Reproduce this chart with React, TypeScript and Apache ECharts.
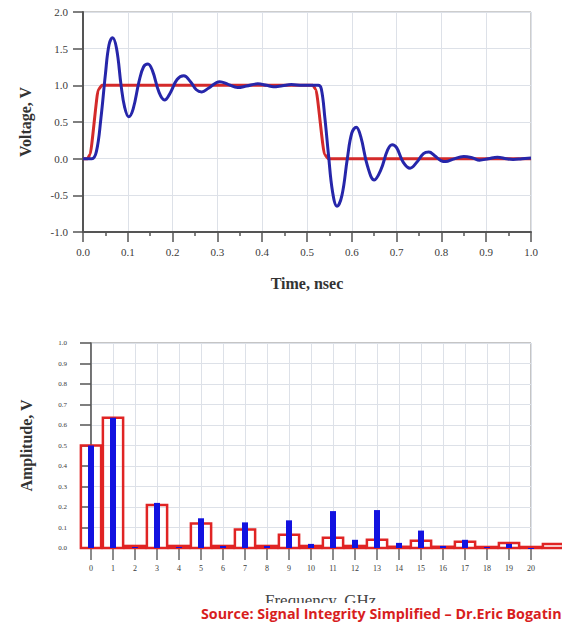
import React, { useEffect, useRef } from "react";
import * as echarts from "echarts";

// ---- Top chart: time domain (Time, nsec vs Voltage, V) ----
const idealPulse: [number, number][] = [
  [0.0, 0], [0.01, 0], [0.016, 0.06], [0.034, 0.94], [0.042, 1.0],
  [0.513, 1.0], [0.52, 0.94], [0.539, 0.06], [0.547, 0], [1.0, 0],
];

const measuredPulse: [number, number][] = [
  [0.0, 0], [0.02, 0.0], [0.03, 0.1], [0.04, 0.55], [0.05, 1.15], [0.058, 1.55],
  [0.066, 1.65], [0.075, 1.5], [0.085, 1.0], [0.093, 0.7], [0.102, 0.57],
  [0.112, 0.68], [0.125, 1.05], [0.135, 1.25], [0.145, 1.29], [0.155, 1.2],
  [0.17, 0.9], [0.182, 0.8], [0.195, 0.9], [0.21, 1.08], [0.225, 1.13],
  [0.24, 1.05], [0.253, 0.94], [0.265, 0.91], [0.28, 0.96], [0.305, 1.05],
  [0.325, 1.01], [0.345, 0.97], [0.365, 0.99], [0.39, 1.02], [0.41, 1.0],
  [0.425, 0.98], [0.445, 0.995], [0.465, 1.01], [0.49, 1.0], [0.525, 1.0],
  [0.532, 0.95], [0.54, 0.55], [0.548, 0.05], [0.557, -0.45], [0.567, -0.65],
  [0.578, -0.5], [0.59, 0.0], [0.6, 0.35], [0.61, 0.43], [0.62, 0.3],
  [0.635, -0.1], [0.65, -0.29], [0.665, -0.15], [0.68, 0.12], [0.69, 0.19],
  [0.7, 0.15], [0.715, -0.05], [0.73, -0.13], [0.745, -0.05], [0.76, 0.07],
  [0.772, 0.09], [0.785, 0.04], [0.8, -0.03], [0.81, -0.04], [0.825, -0.01],
  [0.85, 0.03], [0.87, 0.01], [0.885, -0.02], [0.905, 0.0], [0.925, 0.02],
  [0.945, 0.0], [0.96, -0.01], [0.98, 0.0], [1.0, 0.01],
];

// ---- Bottom chart: frequency domain (Frequency, GHz vs Amplitude, V) ----
const harmonics = [0, 1, 2, 3, 4, 5, 6, 7, 8, 9, 10, 11, 12, 13, 14, 15, 16, 17, 18, 19, 20, 21];
const idealAmplitude = [
  0.5, 0.635, 0.01, 0.21, 0.01, 0.12, 0.01, 0.09, 0.01, 0.065, 0.01,
  0.05, 0.01, 0.04, 0.006, 0.035, 0.006, 0.03, 0.005, 0.025, 0.005, 0.02,
];
const measuredAmplitude = [
  0.5, 0.635, 0.005, 0.22, 0.005, 0.145, 0.01, 0.125, 0.01, 0.135, 0.02,
  0.18, 0.04, 0.185, 0.025, 0.085, 0.01, 0.04, 0.005, 0.02, 0.0,
];

const serif = "'Liberation Serif', 'DejaVu Serif', serif";

export default function App() {
  const ref = useRef<HTMLDivElement>(null);

  useEffect(() => {
    if (!ref.current) return;
    const chart = echarts.init(ref.current, undefined, { renderer: "svg" });

    const idealBars = harmonics.map((h, i) => [h, idealAmplitude[i]]);
    const measBars = measuredAmplitude.map((v, i) => [harmonics[i], v]);

    const option: any = {
      animation: false,
      backgroundColor: "#ffffff",
      grid: [
        { left: 83, top: 12, width: 448, height: 220, show: true, borderColor: "#9a9a9a", borderWidth: 1, backgroundColor: "transparent" },
        { left: 91, top: 343, width: 440, height: 205, show: true, borderColor: "#8a8a8a", borderWidth: 1, backgroundColor: "transparent" },
      ],
      xAxis: [
        {
          gridIndex: 0, type: "value", min: 0, max: 1, interval: 0.1,
          axisLine: { show: true, onZero: false, lineStyle: { color: "#555", width: 2 } },
          axisTick: { show: true, inside: false, length: 10, lineStyle: { color: "#555", width: 1.5 } },
          minorTick: { show: true, splitNumber: 2, length: 4, lineStyle: { color: "#555", width: 1.5 } },
          splitLine: { show: true, lineStyle: { color: "#dde1e8", width: 1 } },
          axisLabel: { formatter: (v: number) => v.toFixed(1), fontFamily: serif, fontSize: 11, color: "#3a3a3a", margin: 14 },
          name: "Time, nsec", nameLocation: "middle", nameGap: 43,
          nameTextStyle: { fontFamily: serif, fontSize: 16, fontWeight: "bold", color: "#333" },
        },
        {
          gridIndex: 1, type: "value", min: 0, max: 20, interval: 1,
          axisLine: { show: true, onZero: false, lineStyle: { color: "#555", width: 1.5 } },
          axisTick: { show: true, inside: false, length: 12, lineStyle: { color: "#666", width: 1.5 } },
          splitLine: { show: true, lineStyle: { color: "#dde1e8", width: 1 } },
          axisLabel: { formatter: (v: number) => String(v), fontFamily: serif, fontSize: 8, color: "#3a3a3a", margin: 16 },
        },
      ],
      yAxis: [
        {
          gridIndex: 0, type: "value", min: -1, max: 2, interval: 0.5,
          axisLine: { show: true, onZero: false, lineStyle: { color: "#555", width: 2 } },
          axisTick: { show: true, inside: false, length: 10, lineStyle: { color: "#555", width: 1.5 } },
          splitLine: { show: true, lineStyle: { color: "#dde1e8", width: 1 } },
          axisLabel: { formatter: (v: number) => v.toFixed(1), fontFamily: serif, fontSize: 11, color: "#3a3a3a", margin: 15 },
          name: "Voltage, V", nameLocation: "middle", nameGap: 50, nameRotate: 90,
          nameTextStyle: { fontFamily: serif, fontSize: 16, fontWeight: "bold", color: "#333" },
        },
        {
          gridIndex: 1, type: "value", min: 0, max: 1, interval: 0.1,
          axisLine: { show: true, onZero: false, lineStyle: { color: "#555", width: 1.5 } },
          axisTick: { show: true, inside: false, length: 11, lineStyle: { color: "#555", width: 1.5 } },
          splitLine: { show: true, lineStyle: { color: "#dde1e8", width: 1 } },
          axisLabel: { formatter: (v: number) => v.toFixed(1), fontFamily: serif, fontSize: 7, color: "#3a3a3a", margin: 24 },
          name: "Amplitude, V", nameLocation: "middle", nameGap: 57, nameRotate: 90,
          nameTextStyle: { fontFamily: serif, fontSize: 16, fontWeight: "bold", color: "#333" },
        },
      ],
      series: [
        {
          type: "line", xAxisIndex: 0, yAxisIndex: 0, data: idealPulse,
          showSymbol: false, smooth: 0.15, smoothMonotone: "x",
          lineStyle: { color: "#d42a2a", width: 3 }, z: 3,
        },
        {
          type: "line", xAxisIndex: 0, yAxisIndex: 0, data: measuredPulse,
          showSymbol: false, smooth: 0.4,
          lineStyle: { color: "#2626aa", width: 3 }, z: 4,
        },
        {
          type: "custom", xAxisIndex: 1, yAxisIndex: 1, data: idealBars, clip: false, z: 3,
          renderItem: (_p: any, api: any) => {
            const k = api.value(0);
            const v = api.value(1);
            const a = api.coord([k - 0.46, v]);
            const b = api.coord([k + 0.46, 0]);
            return {
              type: "rect",
              shape: { x: a[0], y: a[1], width: b[0] - a[0], height: b[1] - a[1] },
              style: { fill: "none", stroke: "#e02424", lineWidth: 2.5 },
            };
          },
        },
        {
          type: "custom", xAxisIndex: 1, yAxisIndex: 1, data: measBars, clip: false, z: 4,
          renderItem: (_p: any, api: any) => {
            const k = api.value(0);
            const v = api.value(1);
            const a = api.coord([k, v]);
            const b = api.coord([k, 0]);
            return {
              type: "rect",
              shape: { x: a[0] - 3, y: a[1], width: 6, height: Math.max(b[1] - a[1], 1) },
              style: { fill: "#1212e0" },
            };
          },
        },
      ],
      graphic: [
        {
          type: "text", left: 265, top: 592,
          style: { text: "Frequency, GHz", fontFamily: serif, fontSize: 17, lineHeight: 10, fill: "#444" },
          z: 10,
        },
        {
          type: "rect", shape: { x: 180, y: 603, width: 382, height: 14 },
          style: { fill: "#ffffff" }, z: 11,
        },
        {
          type: "text", left: 201, top: 605,
          style: {
            text: "Source: Signal Integrity Simplified \u2013 Dr.Eric Bogatin",
            fontFamily: "'Open Sans', 'Noto Sans', sans-serif", fontSize: 14.3, lineHeight: 16, fontWeight: "bold", fill: "#d81e1e",
          },
          z: 12,
        },
      ],
    };

    chart.setOption(option);
    return () => chart.dispose();
  }, []);

  return (
    <div
      ref={ref}
      style={{ position: "absolute", left: 0, top: 0, width: 562, height: 628, background: "#fff" }}
    />
  );
}
